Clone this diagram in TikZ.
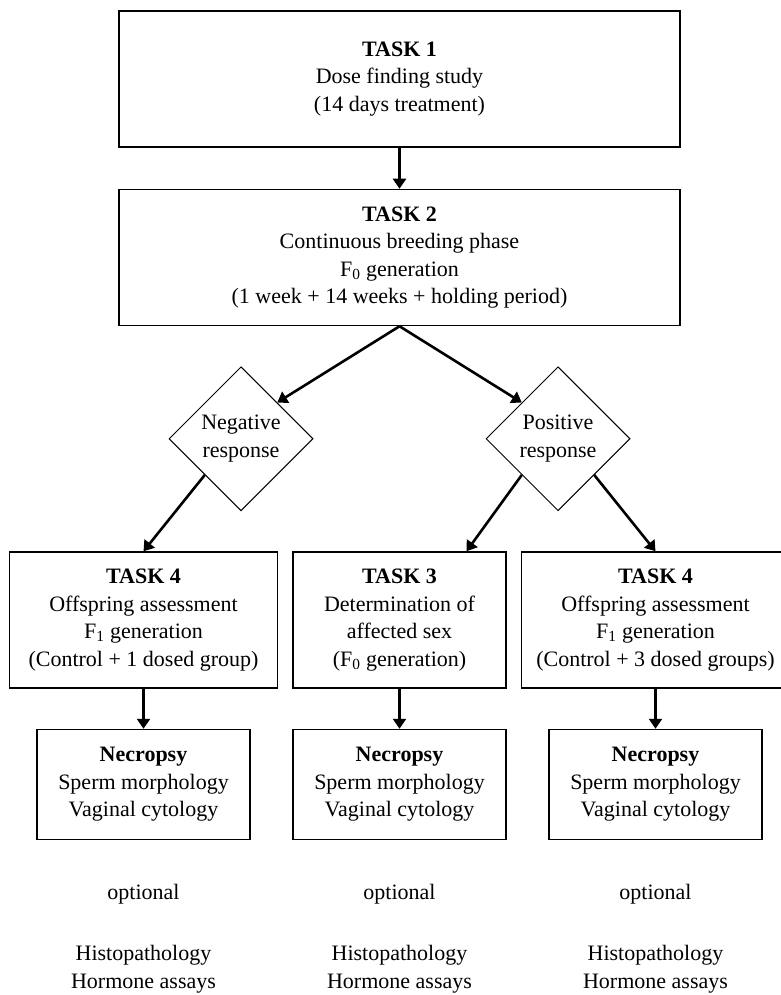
\documentclass[tikz,border=0pt]{standalone}
\usepackage{fontspec}
\setmainfont{Liberation Serif}
\usetikzlibrary{shapes.geometric, arrows.meta}
\usetikzlibrary{positioning}
\tikzstyle{arrow} = [line width=2.6pt, ->, >={Triangle[length=10pt,width=13pt]}]
\tikzstyle{task} = [rectangle, minimum height=136pt, text centered, align=center, draw=black, line width=1.5pt]
\tikzstyle{decision} = [diamond, minimum width=144pt, minimum height=144pt, inner sep=0pt, text centered, align=center, draw=black, line width=1pt]
\tikzstyle{necropsy} = [rectangle, minimum width=213pt, minimum height=110pt, text centered, align=center, draw=black, line width=1.5pt]
\tikzstyle{extra} = [align=center, inner sep=0pt]

\begin{document}
\begin{tikzpicture}[x=1pt, y=1pt, font=\fontsize{22}{27.5}\selectfont]
            \useasboundingbox (0,0) rectangle (781,-995);

            \node (TASK1) [task, minimum width=561pt] at (399.5,-79) {\textbf{TASK 1}\\Dose finding study\\(14 days treatment)};
            \node (TASK2) [task, minimum width=561pt, below=41pt of TASK1] {\textbf{TASK 2}\\Continuous breeding phase\\F\textsubscript{0} generation\\(1 week + 14 weeks + holding period)};
            \node (NEG) [decision, below=40pt of TASK2, xshift=-158.5pt] {Negative\\response};
            \node (POS) [decision, below=40pt of TASK2, xshift=158.5pt] {Positive\\response};
            \node (TASK3) [task, minimum width=213pt, below=225pt of TASK2] {\textbf{TASK 3}\\Determination of\\affected sex\\(F\textsubscript{0} generation)};
            \node (TASK4A) [task, minimum width=268pt, left=14pt of TASK3] {\textbf{TASK 4}\\Offspring assessment\\F\textsubscript{1} generation\\(Control + 1 dosed group)};
            \node (TASK4B) [task, minimum width=268pt, right=14pt of TASK3] {\textbf{TASK 4}\\Offspring assessment\\F\textsubscript{1} generation\\(Control + 3 dosed groups)};

            \node (NEC1) [necropsy, below=40pt of TASK4A] {\textbf{Necropsy}\\Sperm morphology\\Vaginal cytology};
            \node (NEC2) [necropsy, below=40pt of TASK3] {\textbf{Necropsy}\\Sperm morphology\\Vaginal cytology};
            \node (NEC3) [necropsy, below=40pt of TASK4B] {\textbf{Necropsy}\\Sperm morphology\\Vaginal cytology};

            \node (OPT1) at ([yshift=-54pt]NEC1.south) {optional};
            \node (OPT2) at ([yshift=-54pt]NEC2.south) {optional};
            \node (OPT3) at ([yshift=-54pt]NEC3.south) {optional};

            \node (HIST1) [extra] at ([yshift=-129pt]NEC1.south) {Histopathology\\Hormone assays};
            \node (HIST2) [extra] at ([yshift=-129pt]NEC2.south) {Histopathology\\Hormone assays};
            \node (HIST3) [extra] at ([yshift=-129pt]NEC3.south) {Histopathology\\Hormone assays};

            \draw [arrow] (TASK1) -- (TASK2);
            \draw [arrow] (TASK2.south) -- (NEG.north east);
            \draw [arrow] (TASK2.south) -- (POS.north west);
            \draw [arrow] (NEG.south west) -- (TASK4A.north);
            \draw [arrow] (POS.south west) -- ([xshift=67pt]TASK3.north);
            \draw [arrow] (POS.south east) -- (TASK4B.north);
            \draw [arrow] (TASK4A) -- (NEC1);
            \draw [arrow] (TASK3) -- (NEC2);
            \draw [arrow] (TASK4B) -- (NEC3);

        \end{tikzpicture}
\end{document}
